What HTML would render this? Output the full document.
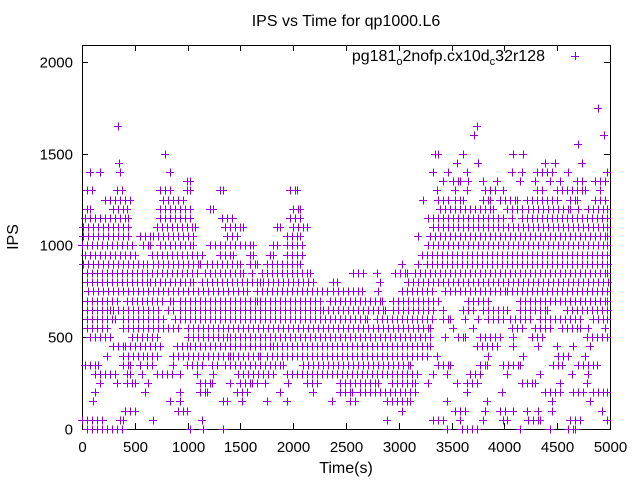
<!DOCTYPE html>
<html><head><meta charset="utf-8"><style>
body{margin:0;background:#fff}
svg{display:block;font-family:"Liberation Sans",sans-serif}
</style></head><body>
<svg id="chart" width="640" height="480" viewBox="0 0 640 480">
<rect width="640" height="480" fill="#fff"/>
<text x="346" y="26" text-anchor="middle" font-size="16">IPS vs Time for qp1000.L6</text>
<text transform="translate(18,237) rotate(-90)" text-anchor="middle" font-size="16">IPS</text>
<text x="346" y="473" text-anchor="middle" font-size="16">Time(s)</text>
<g id="axes"></g>
<g id="marks"></g>
<g>
<text x="545" y="61" text-anchor="end" font-size="16">pg181<tspan font-size="11" dy="4">o</tspan><tspan dy="-4">2nofp.cx10d</tspan><tspan font-size="11" dy="4">c</tspan><tspan dy="-4">32r128</tspan></text>
<path d="M571 56.5h8M575.5 52v8" stroke="#9400d3" stroke-width="1"/>
</g>
</svg>
<script>
const xTicks=[0,500,1000,1500,2000,2500,3000,3500,4000,4500,5000];
const yTicks=[0,500,1000,1500,2000];
const rowIPS=[0,50,100,150,200,250,300,350,400,450,500,550,600,650,700,750,800,850,900,950,1000,1050,1100,1150,1200,1250,1300,1350,1400,1450,1500,1550,1600,1650,1750];
const rowRuns=[
[[44,391],[1023],[1149],[1339],[3453],[3595,3738],[4148],[4432],[4606,4669]],
[[0,202],[360,391],[676],[1133],[2885],[3327,3422],[3580],[3801],[3990,4022],[4227,4337],[4621,4716],[4969]],
[[407,502],[912,991],[3027],[3532,3627],[3816],[3958,4006],[4085],[4211],[4321],[4448],[4921]],
[[107],[833],[928],[1339,1370],[1512],[1749],[1938],[2365],[2538,2585],[2885,3106],[3453],[3832],[4448],[4811]],
[[123],[596],[928],[1118,1181],[1465,1560],[1875],[2191],[2443,2538],[2553],[2632,3153],[3643],[3974],[4385,4527],[4653,4748],[4842,4969]],
[[170],[328],[423,502],[628],[1118,1228],[1402],[1496,1607],[1654],[1733],[1954],[2128,2239],[2443,2806],[2932,3153],[3280],[3548],[3643,3753],[4164,4290],[4527],[4779]],
[[123,312],[423,455],[565],[707,865],[928],[1086],[1244],[1481,1812],[1938,3185],[3327],[3453],[3674,3769],[4022],[4337],[4637],[4795]],
[[28,155],[391,455],[549],[612,676],[865],[991,1149],[1228,1275],[1354,1907],[2096,3106],[3374,3485],[3769,3832],[3990,4148],[4464,4543],[4700,4874]],
[[234],[391,581],[612,723],[865,1402],[1433,1686],[1749,3280],[3359],[3848],[4180],[4511,4606],[4763]],
[[297,391],[407,739],[897,991],[1023,1812],[1844,3295],[3738,3927],[4085],[4321],[4495],[4653],[4811]],
[[76,265],[470,707],[1007,1370],[1402,3295],[3438],[3564,3627],[3769,3958],[4085],[4258,4353],[4779,4969]],
[[44,234],[391,912],[1007,3295],[3516],[3706],[4069,4180],[4290,4432],[4542,4716],[4795],[4953]],
[[44,312],[391,770],[881,2696],[2790,3327],[3422,3485],[3627],[3753],[3848,3990],[4053,4243],[4337,4716],[4842,4969]],
[[44,265],[297,723],[817,865],[928,2254],[2286,2869],[2948,3327],[3422],[3611,3706],[3801,4022],[4148,4400],[4590,4984]],
[[44,328],[423,770],[833,865],[928,1654],[1686,2254],[2349,2838],[2948,3374],[3659,3848],[4148,4969]],
[[60,1560],[1654,2317],[2380,2648],[2806],[3027,3327],[3438,4022],[4069,4969]],
[[44,644],[692,1054],[1133,1686],[1717,2191],[2380,2412],[2822],[3090,4984]],
[[44,1086],[1165,1528],[1607],[1702,2159],[2569,2664],[2790],[2964,3074],[3153,4969]],
[[13,612],[676,1118],[1181,1496],[1591,1654],[1749,2065],[3027],[3185],[3264,4984]],
[[28,502],[660,1133],[1307,1433],[1591,1623],[1781,1812],[1938,2081],[3217,4969]],
[[0,480],[581,644],[739,1054],[1212,1623],[1812,1844],[1938,2081],[3280,4969]],
[[13,439],[549,676],[723,1054],[1370,1465],[1938,2065],[3185],[3295,4969]],
[[13,439],[707,1070],[1354,1528],[1844,1875],[2002,2128],[3327,4969]],
[[28,439],[739,1023],[1323,1433],[1970,2065],[3280,3990],[4069],[4164,4969]],
[[44,76],[297,423],[739,1023],[1212,1244],[2002,2065],[3390,3895],[4022,4180],[4227,4621],[4700],[4795,4969]],
[[217,455],[770,960],[3232],[3374,3469],[3532,3611],[3801,3864],[3958,4117],[4211,4511],[4621,4685],[4858,4953]],
[[44,91],[328,375],[739,833],[991,1023],[1307,1339],[1970,2033],[3359],[3532],[3643],[3816,3911],[3990],[4306,4369],[4495,4763],[4905]],
[[991,1023],[3422],[3516,3580],[3659],[3801],[3927],[4148],[4290],[4432],[4527],[4685,4748],[4858,4953]],
[[76],[170],[360],[833],[3327],[3469],[3643],[4069],[4164],[4306,4464],[4606],[4969]],
[[350],[3548],[3753],[4385],[4479],[4732]],
[[786],[3343],[3374],[3611],[4085],[4180]],
[[4700]],
[[3712],[4943]],
[[340],[3740]],
[[4886]]
];
const X0=82,X1=610,Y0=429,Y1=45,TMAX=5000,VMAX=2092;
const sx=t=>X0+t/TMAX*(X1-X0);
const sy=v=>Y0-v/VMAX*(Y0-Y1);
const snap=p=>Math.round(p)+0.5;
const NS="http://www.w3.org/2000/svg";
const axes=document.getElementById('axes');
let d=`M${X0+0.5} ${Y1+0.5}H${X1+0.5}V${Y0+0.5}H${X0+0.5}Z`;
const frame=document.createElementNS(NS,'path');


frame.setAttribute('d',d);frame.setAttribute('fill','none');frame.setAttribute('stroke','#000');
axes.appendChild(frame);
let td='';
xTicks.forEach(t=>{const x=snap(sx(t));td+=`M${x} ${Y0}v-6M${x} ${Y1}v6`;
 const tx=document.createElementNS(NS,'text');
 
 
 tx.setAttribute('x',x);tx.setAttribute('y',452);tx.setAttribute('text-anchor','middle');tx.setAttribute('font-size','15');tx.textContent=t;axes.appendChild(tx);});
yTicks.forEach(v=>{const y=snap(sy(v));td+=`M${X0} ${y}h6M${X1} ${y}h-6`;
 const tx=document.createElementNS(NS,'text');
 
 
 tx.setAttribute('x',73);tx.setAttribute('y',y+5);tx.setAttribute('text-anchor','end');tx.setAttribute('font-size','15');tx.textContent=v;axes.appendChild(tx);});
const tp=document.createElementNS(NS,'path');


tp.setAttribute('d',td);tp.setAttribute('stroke','#000');axes.appendChild(tp);
const marks=document.getElementById('marks');
let md='';
rowIPS.forEach((v,i)=>{const y=snap(sy(v));
 rowRuns[i].forEach(r=>{const a=Math.round(sx(r[0])),b=Math.round(sx(r.length>1?r[1]:r[0]));
  md+=`M${a-4} ${y}H${b+4}`;
  for(let x=a;x<=b;x+=5){md+=`M${x+0.5} ${y-4}v8`;}
  if(b-a>0&&((b-a)%5)>1)md+=`M${b+0.5} ${y-4}v8`;
 });});
const mp=document.createElementNS(NS,'path');


mp.setAttribute('d',md);mp.setAttribute('stroke','#9400d3');mp.setAttribute('stroke-width','1');mp.setAttribute('fill','none');
marks.appendChild(mp);
</script>
</body></html>
